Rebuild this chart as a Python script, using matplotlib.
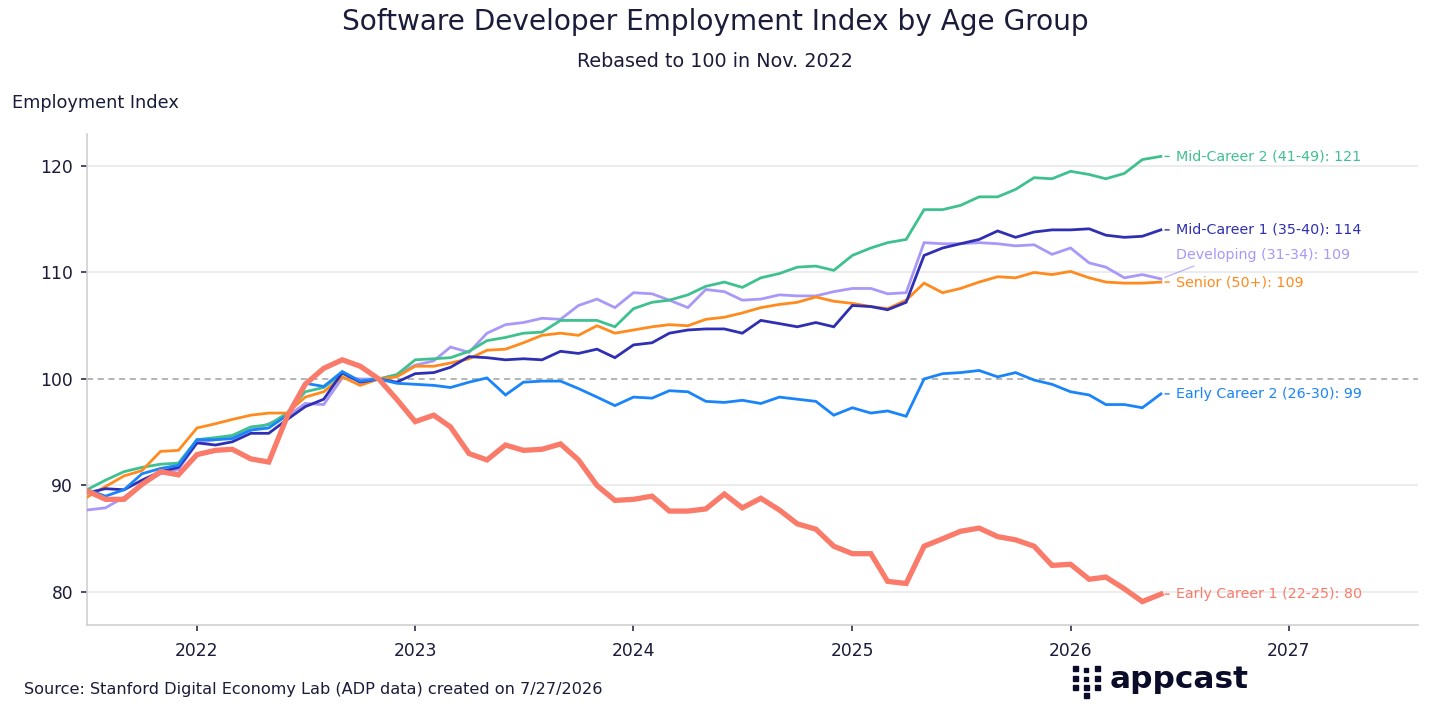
import matplotlib
matplotlib.use("Agg")
import matplotlib.pyplot as plt
import matplotlib.dates as mdates
from matplotlib.patches import Rectangle
import pandas as pd

# ---------------------------------------------------------------------------
# Data (monthly index, rebased to 100 in Nov. 2022)
# ---------------------------------------------------------------------------
months = pd.date_range("2021-07-01", "2026-06-01", freq="MS")
base_value = 100

early_1 = [89.5, 88.7, 88.7, 90.1, 91.3, 91.0, 92.9, 93.3, 93.4, 92.5,
           92.2, 96.5, 99.5, 101.0, 101.8, 101.2, 100.0, 98.1, 96.0, 96.6,
           95.5, 93.0, 92.4, 93.8, 93.3, 93.4, 93.9, 92.4, 90.0, 88.6,
           88.7, 89.0, 87.6, 87.6, 87.8, 89.2, 87.9, 88.8, 87.7, 86.4,
           85.9, 84.3, 83.6, 83.6, 81.0, 80.8, 84.3, 85.0, 85.7, 86.0,
           85.2, 84.9, 84.3, 82.5, 82.6, 81.2, 81.4, 80.3, 79.1, 79.8]
early_2 = [89.6, 89.0, 89.6, 91.1, 91.6, 91.9, 94.3, 94.3, 94.4, 95.2,
           95.4, 96.6, 99.6, 99.3, 100.7, 99.8, 100.0, 99.6, 99.5, 99.4,
           99.2, 99.7, 100.1, 98.5, 99.7, 99.8, 99.8, 99.1, 98.3, 97.5,
           98.3, 98.2, 98.9, 98.8, 97.9, 97.8, 98.0, 97.7, 98.3, 98.1,
           97.9, 96.6, 97.3, 96.8, 97.0, 96.5, 100.0, 100.5, 100.6, 100.8,
           100.2, 100.6, 99.9, 99.5, 98.8, 98.5, 97.6, 97.6, 97.3, 98.6]
developing = [87.7, 87.9, 88.9, 90.1, 91.1, 91.5, 94.0, 94.3, 94.6, 95.2,
              95.8, 96.5, 97.7, 97.6, 100.1, 100.0, 100.0, 100.4, 101.3, 101.7,
              103.0, 102.5, 104.3, 105.1, 105.3, 105.7, 105.6, 106.9, 107.5, 106.7,
              108.1, 108.0, 107.4, 106.7, 108.4, 108.2, 107.4, 107.5, 107.9, 107.8,
              107.8, 108.2, 108.5, 108.5, 108.0, 108.1, 112.8, 112.7, 112.7, 112.8,
              112.7, 112.5, 112.6, 111.7, 112.3, 110.9, 110.5, 109.5, 109.8, 109.4]
mid_1 = [89.3, 89.7, 89.6, 90.5, 91.3, 91.7, 94.0, 93.8, 94.1, 94.9,
         94.9, 96.2, 97.4, 98.1, 100.6, 99.7, 100.0, 99.7, 100.5, 100.6,
         101.1, 102.1, 102.0, 101.8, 101.9, 101.8, 102.6, 102.4, 102.8, 102.0,
         103.2, 103.4, 104.3, 104.6, 104.7, 104.7, 104.3, 105.5, 105.2, 104.9,
         105.3, 104.9, 106.9, 106.8, 106.5, 107.2, 111.6, 112.3, 112.7, 113.1,
         113.9, 113.3, 113.8, 114.0, 114.0, 114.1, 113.5, 113.3, 113.4, 114.0]
mid_2 = [89.6, 90.5, 91.3, 91.7, 92.0, 92.1, 94.3, 94.5, 94.7, 95.5,
         95.7, 96.8, 98.8, 99.2, 100.5, 99.8, 100.0, 100.4, 101.8, 101.9,
         102.0, 102.6, 103.6, 103.9, 104.3, 104.4, 105.5, 105.5, 105.5, 104.9,
         106.6, 107.2, 107.4, 107.9, 108.7, 109.1, 108.6, 109.5, 109.9, 110.5,
         110.6, 110.2, 111.6, 112.3, 112.8, 113.1, 115.9, 115.9, 116.3, 117.1,
         117.1, 117.8, 118.9, 118.8, 119.5, 119.2, 118.8, 119.3, 120.6, 120.9]
senior = [88.9, 89.9, 90.9, 91.4, 93.2, 93.3, 95.4, 95.8, 96.2, 96.6,
          96.8, 96.8, 98.3, 98.8, 100.2, 99.4, 100.0, 100.2, 101.2, 101.2,
          101.5, 101.9, 102.7, 102.8, 103.4, 104.1, 104.3, 104.1, 105.0, 104.3,
          104.6, 104.9, 105.1, 105.0, 105.6, 105.8, 106.2, 106.7, 107.0, 107.2,
          107.7, 107.3, 107.1, 106.8, 106.6, 107.4, 109.0, 108.1, 108.5, 109.1,
          109.6, 109.5, 110.0, 109.8, 110.1, 109.5, 109.1, 109.0, 109.0, 109.1]

series_names = ["Developing (31-34)", "Mid-Career 2 (41-49)", "Senior (50+)",
                "Mid-Career 1 (35-40)", "Early Career 2 (26-30)",
                "Early Career 1 (22-25)"]
series_values = [developing, mid_2, senior, mid_1, early_2, early_1]
series_colors = ["#a998f7", "#3fc18f", "#ff8a1e", "#2f2fb3", "#1a84fa", "#fb7b6b"]
series_widths = [2.0, 2.0, 2.0, 2.0, 2.0, 3.8]
# vertical offset (points) of the end label
label_offsets = [17, 0, 0, 0, 0, 0]

year_ticks = [2022, 2023, 2024, 2025, 2026, 2027]
y_ticks = [80, 90, 100, 110, 120]

TEXT = "#1b1b3a"
GRID = "#e9e9e9"

# ---------------------------------------------------------------------------
# Figure
# ---------------------------------------------------------------------------
plt.rcParams["font.family"] = ["DejaVu Sans"]
fig = plt.figure(figsize=(14.3, 7.24), dpi=100)
ax = fig.add_axes([0.0608, 0.1367, 0.9308, 0.6782])

for v in y_ticks:
    if v == base_value:
        ax.axhline(v, color="#a0a0a0", lw=1.1, ls=(0, (4, 3)), zorder=1)
    else:
        ax.axhline(v, color=GRID, lw=1.2, zorder=1)

for name, vals, col, lw, dy in zip(series_names, series_values, series_colors,
                                   series_widths, label_offsets):
    ax.plot(months, vals, color=col, lw=lw, solid_joinstyle="miter", zorder=3)
    ax.annotate(f"{name}: {round(vals[-1])}",
                xy=(months[-1], vals[-1]), xytext=(11, dy),
                textcoords="offset points", ha="left", va="center",
                fontsize=10.3, color=col,
                arrowprops=dict(arrowstyle="-", color=col, lw=1.0,
                                alpha=0.7 if dy else 1.0,
                                shrinkA=2 if dy else 3, shrinkB=3,
                                relpos=(0.18, 0.1) if dy else (0.0, 0.5)))

ax.set_xlim(months[0], pd.Timestamp("2027-08-05"))
ax.set_ylim(76.9, 123.0)
ax.set_xticks([pd.Timestamp(f"{y}-01-01") for y in year_ticks])
ax.xaxis.set_major_formatter(mdates.DateFormatter("%Y"))
ax.set_yticks(y_ticks)

for side in ["top", "right"]:
    ax.spines[side].set_visible(False)
ax.spines["left"].set_color("#cfcfcf")
ax.spines["bottom"].set_color("#cfcfcf")
ax.spines["left"].set_linewidth(1.2)
ax.spines["bottom"].set_linewidth(1.2)
ax.tick_params(axis="both", colors=TEXT, labelsize=12.3, length=4, width=1.1)
ax.tick_params(axis="x", pad=8)
ax.tick_params(axis="y", pad=6)

# ---------------------------------------------------------------------------
# Titles and footer
# ---------------------------------------------------------------------------
fig.text(0.5, 0.969, "Software Developer Employment Index by Age Group",
         ha="center", va="center", fontsize=20.2, color=TEXT)
fig.text(0.5, 0.915, "Rebased to 100 in Nov. 2022",
         ha="center", va="center", fontsize=13.8, color=TEXT)
fig.text(0.0085, 0.858, "Employment Index", ha="left", va="center",
         fontsize=12.8, color=TEXT)
fig.text(0.0165, 0.047, "Source: Stanford Digital Economy Lab (ADP data) created on 7/27/2026",
         ha="left", va="center", fontsize=11.6, color=TEXT)

# appcast logo (icon squares + word mark)
logo_col = "#0b0b2a"
icon = [(1073, 666, 5), (1084, 668, 4), (1095, 666, 5),
        (1073, 676, 5), (1084, 677, 4), (1095, 676, 5),
        (1073, 685, 5), (1084, 685, 5), (1095, 685, 5),
        (1084, 693, 5)]
for px, py, s in icon:
    fig.add_artist(Rectangle((px / 1430, 1 - (py + s) / 724), s / 1430, s / 724,
                             transform=fig.transFigure, color=logo_col))
fig.text(1110 / 1430, 1 - 679 / 724, "appcast", ha="left", va="center",
         fontsize=22.5, fontweight="bold", color=logo_col)

fig.savefig("out.png", dpi=100)
